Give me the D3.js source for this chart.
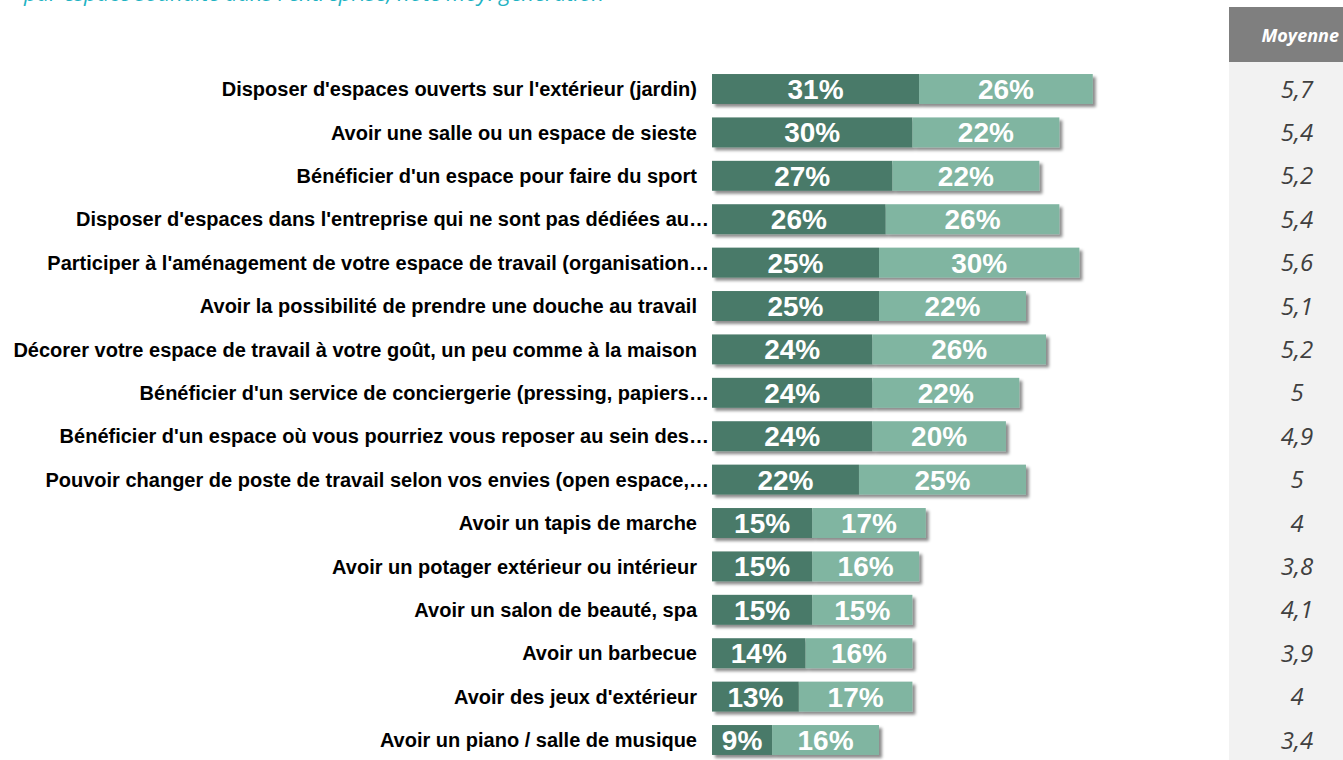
<html>
<head>
<meta charset="utf-8">
<script src="https://cdn.jsdelivr.net/npm/d3@7"></script>
<style>
  body { margin: 0; background: #ffffff; }
  svg { display: block; }
</style>
</head>
<body>
<div id="chart"></div>
<script>
// categories, in the order shown (top to bottom)
var labels = [
  "Disposer d'espaces ouverts sur l'extérieur (jardin)",
  "Avoir une salle ou un espace de sieste",
  "Bénéficier d'un espace pour faire du sport",
  "Disposer d'espaces dans l'entreprise qui ne sont pas dédiées au…",
  "Participer à l'aménagement de votre espace de travail (organisation…",
  "Avoir la possibilité de prendre une douche au travail",
  "Décorer votre espace de travail à votre goût, un peu comme à la maison",
  "Bénéficier d'un service de conciergerie (pressing, papiers…",
  "Bénéficier d'un espace où vous pourriez vous reposer au sein des…",
  "Pouvoir changer de poste de travail selon vos envies (open espace,…",
  "Avoir un tapis de marche",
  "Avoir un potager extérieur ou intérieur",
  "Avoir un salon de beauté, spa",
  "Avoir un barbecue",
  "Avoir des jeux d'extérieur",
  "Avoir un piano / salle de musique"
];
// dark segment (first series) and light segment (second series), in %
var serie1 = [31, 30, 27, 26, 25, 25, 24, 24, 24, 22, 15, 15, 15, 14, 13, 9];
var serie2 = [26, 22, 22, 26, 30, 22, 26, 22, 20, 25, 17, 16, 15, 16, 17, 16];
// average score column
var moyennes = ["5,7", "5,4", "5,2", "5,4", "5,6", "5,1", "5,2", "5", "4,9", "5", "4", "3,8", "4,1", "3,9", "4", "3,4"];

var width = 1343, height = 760;
var colDark = "#4a7a69", colLight = "#80b5a1";

var svg = d3.select("#chart").append("svg")
  .attr("width", width)
  .attr("height", height);

// drop shadow for the bars
var defs = svg.append("defs");
var f = defs.append("filter").attr("id", "shadow")
  .attr("x", "-5%").attr("y", "-20%").attr("width", "115%").attr("height", "160%");
f.append("feDropShadow")
  .attr("dx", 3).attr("dy", 3).attr("stdDeviation", 1.6)
  .attr("flood-color", "#000").attr("flood-opacity", 0.45);

// title (cut at the top of the picture, as in the original)
svg.append("text")
  .attr("x", 24).attr("y", 1)
  .attr("font-family", "Open Sans")
  .attr("font-style", "italic")
  .attr("font-size", 22)
  .attr("fill", "#1fb3c3")
  .text("par espace souhaité dans l'entreprise, note moy. génération");

// scales
var x = d3.scaleLinear().domain([0, 100]).range([712, 712 + 668]);
var y = d3.scaleBand().domain(labels).range([67.3, 761.7]).paddingInner(0.31).paddingOuter(0.155);

var rows = labels.map(function(l, i) {
  return { label: l, a: serie1[i], b: serie2[i], m: moyennes[i] };
});

// right-hand "Moyenne" panel
svg.append("rect")
  .attr("x", 1229).attr("y", 62).attr("width", width - 1229).attr("height", height - 62)
  .attr("fill", "#f2f2f2");
svg.append("rect")
  .attr("x", 1229).attr("y", 7).attr("width", width - 1229).attr("height", 55)
  .attr("fill", "#7f7f7f");
svg.append("text")
  .attr("x", 1339).attr("y", 42)
  .attr("text-anchor", "end")
  .attr("font-family", "Open Sans")
  .attr("font-style", "italic")
  .attr("font-weight", "bold")
  .attr("font-size", 18)
  .attr("fill", "#ffffff")
  .text("Moyenne");

svg.selectAll("text.moy")
  .data(rows)
  .enter()
  .append("text")
    .attr("class", "moy")
    .attr("x", 1297)
    .attr("y", function(d) { return y(d.label) + y.bandwidth() / 2; })
    .attr("dy", "0.36em")
    .attr("text-anchor", "middle")
    .attr("font-family", "Open Sans")
    .attr("font-style", "italic")
    .attr("font-size", 24)
    .attr("fill", "#404040")
    .text(function(d) { return d.m; });

// category labels
svg.selectAll("text.lab")
  .data(rows)
  .enter()
  .append("text")
    .attr("class", "lab")
    .attr("x", function(d) { return /…$/.test(d.label) ? 709 : 697; })
    .attr("y", function(d) { return y(d.label) + y.bandwidth() / 2; })
    .attr("dy", "0.36em")
    .attr("text-anchor", "end")
    .attr("font-family", "Liberation Sans, Arial")
    .attr("font-weight", "bold")
    .attr("font-size", 20)
    .attr("fill", "#000000")
    .text(function(d) { return d.label; });

// bars
var g = svg.selectAll("g.bar")
  .data(rows)
  .enter()
  .append("g")
    .attr("class", "bar")
    .attr("filter", "url(#shadow)");

g.append("rect")
  .attr("x", x(0))
  .attr("y", function(d) { return y(d.label); })
  .attr("width", function(d) { return x(d.a) - x(0); })
  .attr("height", y.bandwidth())
  .attr("fill", colDark);

g.append("rect")
  .attr("x", function(d) { return x(d.a); })
  .attr("y", function(d) { return y(d.label); })
  .attr("width", function(d) { return x(d.a + d.b) - x(d.a); })
  .attr("height", y.bandwidth())
  .attr("fill", colLight);

// value labels
var valueText = function(sel, xpos, val) {
  sel.append("text")
    .attr("x", xpos)
    .attr("y", function(d) { return y(d.label) + y.bandwidth() / 2; })
    .attr("dy", "0.36em")
    .attr("text-anchor", "middle")
    .attr("font-family", "Liberation Sans, Arial")
    .attr("font-weight", "bold")
    .attr("font-size", 28)
    .attr("fill", "#ffffff")
    .text(function(d) { return val(d) + "%"; });
};
var lbl = svg.selectAll("g.vals").data(rows).enter().append("g").attr("class", "vals");
valueText(lbl, function(d) { return x(d.a / 2); }, function(d) { return d.a; });
valueText(lbl, function(d) { return x(d.a + d.b / 2); }, function(d) { return d.b; });
</script>
</body>
</html>
